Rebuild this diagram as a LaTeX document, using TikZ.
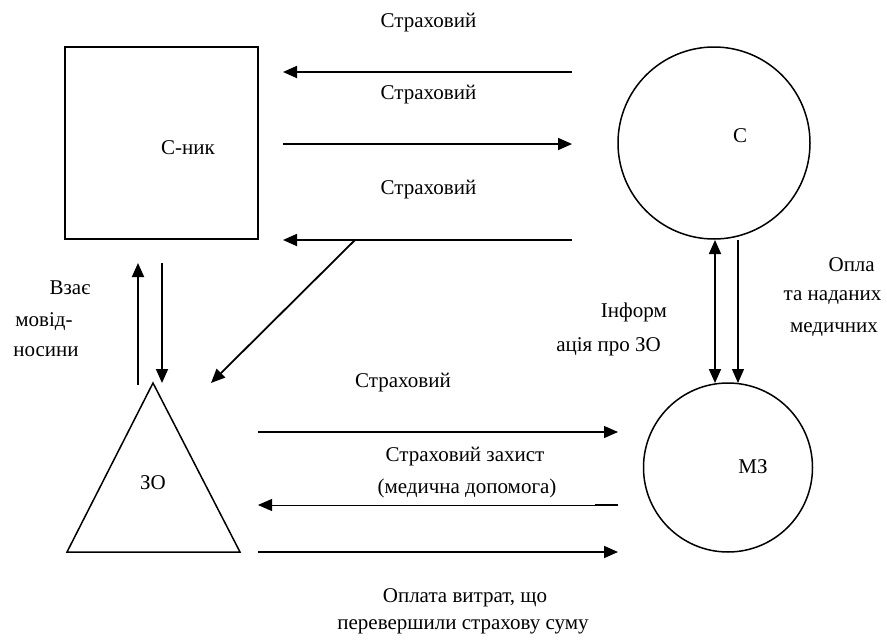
\documentclass[tikz,border=0pt]{standalone}
\usepackage{fontspec}
\setmainfont{Liberation Serif}
\usetikzlibrary{arrows.meta}
\begin{document}
\begin{tikzpicture}[x=1pt,y=-1pt,
  lbl/.style={inner sep=0pt,font=\fontsize{21}{24}\selectfont},
  shp/.style={draw=black,line width=1.5pt},
  conn/.style={line width=1.8pt,-{Triangle[length=14pt,width=12pt]}},
  thinconn/.style={line width=0.8pt,-{Triangle[length=14pt,width=12pt]}},
  midconn/.style={line width=1.2pt,-{Triangle[length=14pt,width=12pt]}},
  stub/.style={line width=1.8pt}]
\useasboundingbox (0,0) rectangle (887,640);
% shapes
\node[shp,rectangle,minimum width=193pt,minimum height=192pt,inner sep=0pt] (sq) at (161.5,143) {};
\node[shp,circle,minimum size=192pt,inner sep=0pt] (cc) at (714,143) {};
\node[shp,circle,minimum size=169pt,inner sep=0pt] (mz) at (728,467.5) {};
\coordinate (ta) at (153,383);
\coordinate (tl) at (67,552);
\coordinate (tr) at (240,552);
\draw[shp,line join=miter] (ta) -- (tl) -- (tr) -- cycle;
% shape labels
\node[lbl] (tsq) at (188,148) {С-ник};
\node[lbl] (tcc) at (740,136) {С};
\node[lbl] (tmz) at (753,467) {МЗ};
\node[lbl] (tzo) at (153,483) {ЗО};
% top arrows
\coordinate (a1s) at (572,72);  \coordinate (a1e) at (283,72);
\coordinate (a2s) at (283,144); \coordinate (a2e) at (572,144);
\coordinate (a3s) at (572,240); \coordinate (a3e) at (283,240);
\draw[conn] (a1s) -- (a1e);
\draw[conn] (a2s) -- (a2e);
\draw[conn] (a3s) -- (a3e);
\coordinate (dgs) at (355,240); \coordinate (dge) at (211,383);
\draw[conn] (dgs) -- (dge);
% left vertical arrows
\coordinate (u1s) at (138,385); \coordinate (u1e) at (138,263);
\coordinate (d1s) at (162,263); \coordinate (d1e) at (162,383);
\draw[conn] (u1s) -- (u1e);
\draw[conn] (d1s) -- (d1e);
% right vertical arrows
\coordinate (v1s) at (715,240); \coordinate (v1e) at (715,383);
\coordinate (v2s) at (738,240); \coordinate (v2e) at (738,383);
\draw[line width=1.8pt,{Triangle[length=14pt,width=12pt]}-{Triangle[length=14pt,width=12pt]}] (v1s) -- (v1e);
\draw[line width=1.2pt,-{Triangle[length=14pt,width=12pt]}] (v2s) -- (v2e);
% bottom arrows
\coordinate (b1s) at (258,432); \coordinate (b1k) at (282,432); \coordinate (b1e) at (618,432);
\draw[midconn] (b1s) -- (b1e);
\draw[stub] (b1s) -- (b1k);
\coordinate (b2s) at (618,505); \coordinate (b2k) at (595,505); \coordinate (b2e) at (258,505);
\draw[thinconn] (b2s) -- (b2e);
\draw[stub] (b2s) -- (b2k);
\coordinate (b3s) at (258,552); \coordinate (b3e) at (618,552);
\draw[conn] (b3s) -- (b3e);
% texts
\node[lbl] (s1) at (428.5,23) {Страховий};
\node[lbl] (s2) at (428.5,95) {Страховий};
\node[lbl] (s3) at (428.5,190) {Страховий};
\node[lbl] (s4) at (403,383) {Страховий};
\node[lbl] (s5) at (465,457) {Страховий захист};
\node[lbl] (s6) at (467,488) {(медична допомога)};
\node[lbl] (s7) at (465,598) {Оплата витрат, що};
\node[lbl] (s8) at (463,627) {перевершили страхову суму};
\node[lbl] (l1) at (70,288) {Взає};
\node[lbl] (l2) at (44,322) {мовід-};
\node[lbl] (l3) at (46,352) {носини};
\node[lbl,anchor=east] (r1) at (667,312) {Інформ};
\node[lbl] (r2) at (608.5,347) {ація про ЗО};
\node[lbl,anchor=east] (r3) at (875,265) {Опла};
\node[lbl] (r4) at (832.5,298) {та наданих};
\node[lbl] (r5) at (834,330) {медичних};
\end{tikzpicture}
\end{document}
